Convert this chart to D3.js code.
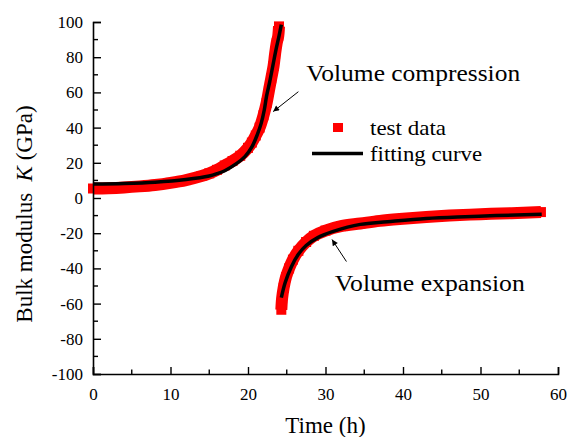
<!DOCTYPE html>
<html>
<head>
<meta charset="utf-8">
<script src="https://cdn.jsdelivr.net/npm/d3@7"></script>
<style>
  html, body { margin: 0; padding: 0; background: #fff; }
  svg { display: block; }
  svg text { font-family: "Liberation Serif", "Times New Roman", serif !important; fill: #000; }
</style>
</head>
<body>
<svg id="chart" width="567" height="437"></svg>
<script>
// ---- data ----
const compTestX = [0, 2, 4, 6, 8, 10, 12, 14, 15, 16, 17, 18, 19, 20, 20.5, 21, 21.5, 22, 22.4, 22.7, 23, 23.3, 23.5, 23.7, 23.9, 24];
const compTestY = [5.4, 5.6, 6, 6.6, 7.4, 8.6, 10.2, 12.5, 14, 16, 18.5, 21, 24, 28.5, 31.5, 35.5, 40, 47, 54, 61, 68, 75, 82, 88, 92, 97.5];
const expTestX = [24.3, 24.4, 24.6, 24.9, 25.3, 25.8, 26.5, 27.5, 28.5, 30, 32, 34.5, 37, 40, 43, 46, 50, 54, 57.8];
const expTestY = [-63.5, -57, -51, -45, -40, -35, -30, -25, -21.5, -18.5, -16, -14.5, -13, -11.8, -10.8, -10, -9.2, -8.6, -8];
const compFitX = [0, 4, 8, 12, 15, 16, 17, 18.5, 19.6, 20.5, 21.2, 21.7, 22.1, 22.4, 22.8, 23.2, 23.6, 24, 24.3];
const compFitY = [8, 8.3, 9, 10.5, 12.5, 13.8, 15.5, 19.5, 23.5, 29, 36, 42.4, 50, 58, 66, 75, 84, 92, 98.5];
const expFitX = [24.3, 24.8, 25.6, 26.5, 27.5, 29, 31, 34.5, 38, 43, 48, 52, 57.9];
const expFitY = [-56.6, -48, -39, -32, -27, -22.5, -19, -15, -13.5, -11.6, -10.6, -10, -9.3];
const xTicks = [0, 10, 20, 30, 40, 50, 60];
const yTicks = [-100, -80, -60, -40, -20, 0, 20, 40, 60, 80, 100];
const xLabel = "Time (h)";
const legendLabels = ["test data", "fitting curve"];
const annotations = ["Volume compression", "Volume expansion"];

// ---- layout ----
const svg = d3.select("#chart");
const x = d3.scaleLinear().domain([0, 60]).range([93, 558]);
const y = d3.scaleLinear().domain([-100, 100]).range([374, 22]);
const MK = 10; // marker size

const zip = (xs, ys) => xs.map((v, i) => [v, ys[i]]);
const compTest = zip(compTestX, compTestY);
const expTest = zip(expTestX, expTestY);
const compFit = zip(compFitX, compFitY);
const expFit = zip(expFitX, expFitY);

const line = d3.line().x(d => x(d[0])).y(d => y(d[1])).curve(d3.curveCatmullRom.alpha(0.5));

// test data: dense square markers forming a band
[compTest, expTest].forEach(s => {
  svg.append("path").attr("d", line(s)).attr("fill", "none")
    .attr("stroke", "#ff0000").attr("stroke-width", 12);
  svg.append("g").selectAll("rect").data(s).join("rect")
    .attr("x", d => x(d[0]) - MK / 2).attr("y", d => y(d[1]) - MK / 2)
    .attr("width", MK).attr("height", MK).attr("fill", "#ff0000");
});

// fitting curves
[compFit, expFit].forEach(s => {
  svg.append("path").attr("d", line(s)).attr("fill", "none")
    .attr("stroke", "#000").attr("stroke-width", 3.5);
});

// axes
const fmt = d => String(d);
const xAxis = d3.axisBottom(x).tickValues(xTicks).tickSize(-7).tickPadding(14).tickFormat(fmt);
const gx = svg.append("g").attr("transform", `translate(0,${y(-100)})`).call(xAxis);
const yAxis = d3.axisLeft(y).tickValues(yTicks).tickSize(-8).tickPadding(10).tickFormat(fmt);
const gy = svg.append("g").attr("transform", `translate(${x(0)},0)`).call(yAxis);
[gx, gy].forEach(g => {
  g.attr("font-family", "Liberation Serif").attr("font-size", 17);
  g.select(".domain").attr("stroke", "#000").attr("stroke-width", 1.6);
  g.selectAll(".tick line").attr("stroke", "#000").attr("stroke-width", 1.4);
  g.selectAll(".tick text").attr("fill", "#000");
});
// minor ticks
svg.append("g").selectAll("line").data(d3.range(5, 60, 10)).join("line")
  .attr("x1", d => x(d)).attr("x2", d => x(d)).attr("y1", y(-100)).attr("y2", y(-100) - 4.5)
  .attr("stroke", "#000").attr("stroke-width", 1.4);
svg.append("g").selectAll("line").data(d3.range(-90, 100, 20)).join("line")
  .attr("y1", d => y(d)).attr("y2", d => y(d)).attr("x1", x(0)).attr("x2", x(0) + 5)
  .attr("stroke", "#000").attr("stroke-width", 1.4);

// axis titles
svg.append("text").attr("x", (x(0) + x(60)) / 2).attr("y", 433)
  .attr("text-anchor", "middle").attr("font-size", 23).text(xLabel);
const yt = svg.append("text").attr("transform", `translate(32,214) rotate(-90)`)
  .attr("text-anchor", "middle").attr("font-size", 23);
yt.append("tspan").text("Bulk modulus\u00a0\u00a0");
yt.append("tspan").attr("font-style", "italic").text("K");
yt.append("tspan").text("\u00a0(GPa)");

// legend
svg.append("rect").attr("x", 333).attr("y", 123).attr("width", MK).attr("height", MK - 1).attr("fill", "#ff0000");
svg.append("line").attr("x1", 312).attr("x2", 363).attr("y1", 153.5).attr("y2", 153.5)
  .attr("stroke", "#000").attr("stroke-width", 3.5);
svg.append("text").attr("x", 370).attr("y", 135).attr("font-size", 21).attr("textLength", 76)
  .attr("lengthAdjust", "spacingAndGlyphs").text(legendLabels[0]);
svg.append("text").attr("x", 370).attr("y", 161).attr("font-size", 21).attr("textLength", 112)
  .attr("lengthAdjust", "spacingAndGlyphs").text(legendLabels[1]);

// annotations
svg.append("defs").append("marker").attr("id", "ah").attr("viewBox", "0 0 10 10")
  .attr("refX", 10).attr("refY", 5).attr("markerWidth", 9).attr("markerHeight", 6)
  .attr("markerUnits", "userSpaceOnUse").attr("orient", "auto")
  .append("path").attr("d", "M0,0 L10,5 L0,10 Z").attr("fill", "#000");
const arrows = [[[26.5, 60.4], [23.25, 49.1]], [[32.7, -36.1], [30.84, -23.6]]];
arrows.forEach(a => {
  svg.append("line").attr("x1", x(a[0][0])).attr("y1", y(a[0][1]))
    .attr("x2", x(a[1][0])).attr("y2", y(a[1][1]))
    .attr("stroke", "#000").attr("stroke-width", 1).attr("marker-end", "url(#ah)");
});
svg.append("text").attr("x", x(27.5)).attr("y", y(66.5)).attr("font-size", 24)
  .attr("textLength", 214).attr("lengthAdjust", "spacingAndGlyphs").text(annotations[0]);
svg.append("text").attr("x", x(31.2)).attr("y", y(-52.7)).attr("font-size", 24)
  .attr("textLength", 190).attr("lengthAdjust", "spacingAndGlyphs").text(annotations[1]);
</script>
</body>
</html>
